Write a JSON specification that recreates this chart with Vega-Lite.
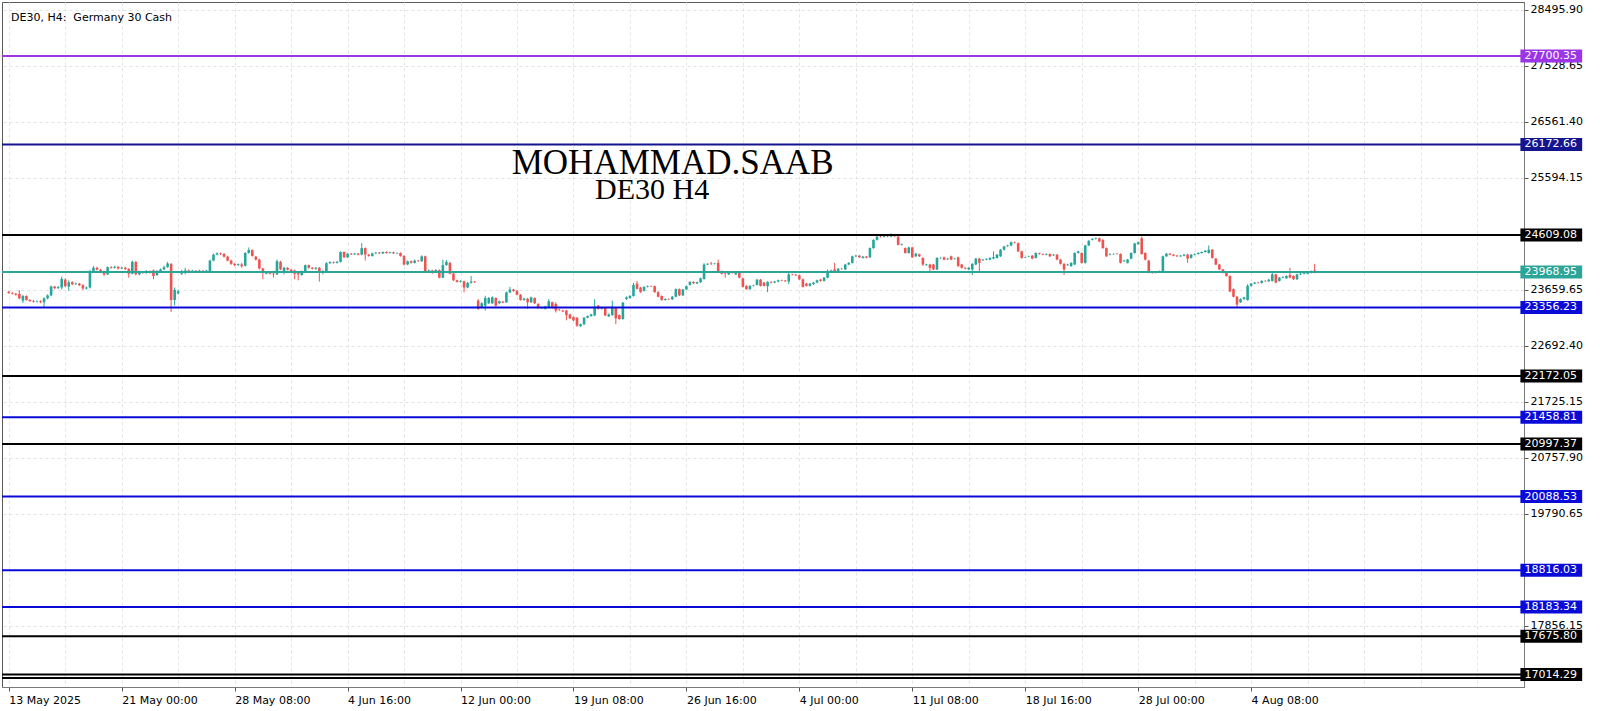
{
  "$schema": "https://vega.github.io/schema/vega-lite/v6.json",
  "width": 1522,
  "height": 685,
  "autosize": {"type": "none"},
  "padding": {"left": 2, "top": 2, "right": 76, "bottom": 24},
  "background": "#ffffff",
  "config": {"view": {"stroke": "#5a5a5a", "strokeWidth": 1}, "font": "DejaVu Sans"},
  "datasets": {
    "candles": [
{"i":0,"o":23627,"c":23605,"h":23644,"l":23593},
{"i":1,"o":23605,"c":23593,"h":23622,"l":23582},
{"i":2,"o":23593,"c":23576,"h":23610,"l":23559},
{"i":3,"o":23588,"c":23514,"h":23656,"l":23497},
{"i":4,"o":23474,"c":23554,"h":23571,"l":23434},
{"i":5,"o":23554,"c":23486,"h":23565,"l":23474},
{"i":6,"o":23486,"c":23468,"h":23497,"l":23451},
{"i":7,"o":23468,"c":23457,"h":23486,"l":23440},
{"i":8,"o":23457,"c":23463,"h":23480,"l":23440},
{"i":9,"o":23463,"c":23446,"h":23480,"l":23429},
{"i":10,"o":23446,"c":23514,"h":23531,"l":23349},
{"i":11,"o":23514,"c":23565,"h":23582,"l":23497},
{"i":12,"o":23565,"c":23718,"h":23735,"l":23554},
{"i":13,"o":23718,"c":23690,"h":23729,"l":23673},
{"i":14,"o":23690,"c":23707,"h":23724,"l":23678},
{"i":15,"o":23701,"c":23849,"h":23888,"l":23667},
{"i":16,"o":23837,"c":23724,"h":23860,"l":23707},
{"i":17,"o":23718,"c":23792,"h":23826,"l":23644},
{"i":18,"o":23792,"c":23758,"h":23809,"l":23741},
{"i":19,"o":23758,"c":23769,"h":23786,"l":23746},
{"i":20,"o":23769,"c":23741,"h":23781,"l":23724},
{"i":21,"o":23741,"c":23684,"h":23758,"l":23656},
{"i":22,"o":23684,"c":23701,"h":23718,"l":23667},
{"i":23,"o":23701,"c":23985,"h":24008,"l":23684},
{"i":24,"o":23985,"c":24042,"h":24070,"l":23973},
{"i":25,"o":24042,"c":24008,"h":24059,"l":23996},
{"i":26,"o":24008,"c":23985,"h":24025,"l":23973},
{"i":27,"o":23985,"c":23928,"h":23996,"l":23900},
{"i":28,"o":23928,"c":24053,"h":24064,"l":23917},
{"i":29,"o":24053,"c":24042,"h":24070,"l":24025},
{"i":30,"o":24042,"c":24059,"h":24076,"l":24030},
{"i":31,"o":24059,"c":24030,"h":24070,"l":24013},
{"i":32,"o":24030,"c":24042,"h":24059,"l":24019},
{"i":33,"o":24042,"c":24019,"h":24059,"l":24002},
{"i":34,"o":24019,"c":23939,"h":24036,"l":23871},
{"i":35,"o":23939,"c":24144,"h":24166,"l":23928},
{"i":36,"o":24144,"c":23928,"h":24155,"l":23911},
{"i":37,"o":23928,"c":23973,"h":23991,"l":23911},
{"i":38,"o":23973,"c":23951,"h":23985,"l":23939},
{"i":39,"o":23951,"c":23985,"h":24002,"l":23939},
{"i":40,"o":23985,"c":23956,"h":23996,"l":23945},
{"i":41,"o":23996,"c":23900,"h":24013,"l":23843},
{"i":42,"o":23917,"c":23985,"h":24002,"l":23900},
{"i":43,"o":23985,"c":24013,"h":24030,"l":23973},
{"i":44,"o":24013,"c":24053,"h":24076,"l":24002},
{"i":45,"o":24053,"c":24115,"h":24144,"l":24042},
{"i":46,"o":24110,"c":23486,"h":24121,"l":23276},
{"i":47,"o":23486,"c":23661,"h":23701,"l":23389},
{"i":48,"o":23599,"c":23633,"h":23667,"l":23582},
{"i":49,"o":23939,"c":23985,"h":24008,"l":23917},
{"i":50,"o":23985,"c":23996,"h":24042,"l":23928},
{"i":51,"o":23996,"c":23973,"h":24013,"l":23956},
{"i":52,"o":23973,"c":23991,"h":24008,"l":23962},
{"i":53,"o":23991,"c":23979,"h":24002,"l":23968},
{"i":54,"o":23979,"c":23991,"h":24008,"l":23968},
{"i":55,"o":23991,"c":23985,"h":24002,"l":23973},
{"i":56,"o":23985,"c":23991,"h":24008,"l":23973},
{"i":57,"o":23985,"c":24166,"h":24183,"l":23973},
{"i":58,"o":24166,"c":24269,"h":24286,"l":24155},
{"i":59,"o":24269,"c":24291,"h":24308,"l":24257},
{"i":60,"o":24291,"c":24280,"h":24303,"l":24263},
{"i":61,"o":24280,"c":24234,"h":24297,"l":24217},
{"i":62,"o":24234,"c":24166,"h":24251,"l":24155},
{"i":63,"o":24166,"c":24110,"h":24183,"l":24093},
{"i":64,"o":24110,"c":24087,"h":24121,"l":24070},
{"i":65,"o":24087,"c":24104,"h":24115,"l":24076},
{"i":66,"o":24098,"c":24070,"h":24127,"l":24042},
{"i":67,"o":24076,"c":24297,"h":24314,"l":24064},
{"i":68,"o":24297,"c":24348,"h":24393,"l":24286},
{"i":69,"o":24348,"c":24246,"h":24359,"l":24234},
{"i":70,"o":24234,"c":24183,"h":24246,"l":24166},
{"i":71,"o":24183,"c":24030,"h":24200,"l":24013},
{"i":72,"o":24030,"c":23956,"h":24042,"l":23843},
{"i":73,"o":23939,"c":23951,"h":23968,"l":23928},
{"i":74,"o":23951,"c":23939,"h":23962,"l":23928},
{"i":75,"o":23939,"c":23928,"h":23956,"l":23871},
{"i":76,"o":23928,"c":24155,"h":24183,"l":23917},
{"i":77,"o":24144,"c":24013,"h":24161,"l":24002},
{"i":78,"o":23985,"c":24042,"h":24059,"l":23928},
{"i":79,"o":24042,"c":24008,"h":24053,"l":23996},
{"i":80,"o":24008,"c":23985,"h":24019,"l":23973},
{"i":81,"o":23996,"c":23939,"h":24008,"l":23843},
{"i":82,"o":23973,"c":23928,"h":23985,"l":23826},
{"i":83,"o":23917,"c":23985,"h":23996,"l":23905},
{"i":84,"o":23985,"c":24087,"h":24098,"l":23973},
{"i":85,"o":24087,"c":24042,"h":24098,"l":24030},
{"i":86,"o":24042,"c":24025,"h":24053,"l":24013},
{"i":87,"o":24025,"c":24042,"h":24053,"l":24008},
{"i":88,"o":24042,"c":23968,"h":24053,"l":23803},
{"i":89,"o":23956,"c":23985,"h":24002,"l":23928},
{"i":90,"o":23985,"c":24121,"h":24138,"l":23973},
{"i":91,"o":24121,"c":24138,"h":24155,"l":24110},
{"i":92,"o":24138,"c":24127,"h":24149,"l":24115},
{"i":93,"o":24127,"c":24144,"h":24161,"l":24115},
{"i":94,"o":24144,"c":24314,"h":24325,"l":24132},
{"i":95,"o":24314,"c":24223,"h":24325,"l":24212},
{"i":96,"o":24223,"c":24286,"h":24297,"l":24212},
{"i":97,"o":24286,"c":24274,"h":24297,"l":24263},
{"i":98,"o":24274,"c":24286,"h":24297,"l":24263},
{"i":99,"o":24286,"c":24269,"h":24297,"l":24257},
{"i":100,"o":24269,"c":24382,"h":24467,"l":24257},
{"i":101,"o":24382,"c":24269,"h":24393,"l":24166},
{"i":102,"o":24269,"c":24246,"h":24280,"l":24234},
{"i":103,"o":24246,"c":24291,"h":24303,"l":24234},
{"i":104,"o":24291,"c":24303,"h":24314,"l":24280},
{"i":105,"o":24303,"c":24291,"h":24314,"l":24280},
{"i":106,"o":24291,"c":24314,"h":24325,"l":24280},
{"i":107,"o":24314,"c":24297,"h":24325,"l":24286},
{"i":108,"o":24297,"c":24308,"h":24320,"l":24286},
{"i":109,"o":24308,"c":24291,"h":24320,"l":24280},
{"i":110,"o":24291,"c":24297,"h":24308,"l":24280},
{"i":111,"o":24297,"c":24246,"h":24308,"l":24234},
{"i":112,"o":24246,"c":24098,"h":24257,"l":24081},
{"i":113,"o":24098,"c":24155,"h":24166,"l":24087},
{"i":114,"o":24155,"c":24127,"h":24166,"l":24115},
{"i":115,"o":24127,"c":24166,"h":24183,"l":24115},
{"i":116,"o":24166,"c":24155,"h":24178,"l":24144},
{"i":117,"o":24155,"c":24240,"h":24257,"l":24144},
{"i":118,"o":24240,"c":23985,"h":24251,"l":23973},
{"i":119,"o":23985,"c":23996,"h":24013,"l":23956},
{"i":120,"o":23996,"c":23973,"h":24008,"l":23939},
{"i":121,"o":23973,"c":24002,"h":24019,"l":23962},
{"i":122,"o":24002,"c":23871,"h":24013,"l":23860},
{"i":123,"o":23871,"c":24087,"h":24183,"l":23860},
{"i":124,"o":24087,"c":24144,"h":24178,"l":24076},
{"i":125,"o":24127,"c":23939,"h":24144,"l":23928},
{"i":126,"o":23939,"c":23826,"h":23951,"l":23815},
{"i":127,"o":23826,"c":23798,"h":23837,"l":23786},
{"i":128,"o":23798,"c":23809,"h":23826,"l":23786},
{"i":129,"o":23809,"c":23701,"h":23820,"l":23616},
{"i":130,"o":23701,"c":23781,"h":23798,"l":23690},
{"i":131,"o":23781,"c":23803,"h":23900,"l":23769},
{"i":132,"o":23803,"c":23792,"h":23815,"l":23781},
{"i":133,"o":23474,"c":23332,"h":23503,"l":23315},
{"i":134,"o":23349,"c":23429,"h":23446,"l":23338},
{"i":135,"o":23389,"c":23520,"h":23559,"l":23304},
{"i":136,"o":23429,"c":23520,"h":23537,"l":23417},
{"i":137,"o":23429,"c":23531,"h":23548,"l":23417},
{"i":138,"o":23520,"c":23389,"h":23531,"l":23372},
{"i":139,"o":23429,"c":23463,"h":23474,"l":23417},
{"i":140,"o":23457,"c":23440,"h":23468,"l":23429},
{"i":141,"o":23446,"c":23616,"h":23633,"l":23434},
{"i":142,"o":23616,"c":23667,"h":23712,"l":23605},
{"i":143,"o":23667,"c":23639,"h":23678,"l":23627},
{"i":144,"o":23644,"c":23576,"h":23656,"l":23565},
{"i":145,"o":23576,"c":23486,"h":23588,"l":23474},
{"i":146,"o":23486,"c":23508,"h":23525,"l":23474},
{"i":147,"o":23508,"c":23446,"h":23520,"l":23332},
{"i":148,"o":23446,"c":23531,"h":23542,"l":23434},
{"i":149,"o":23520,"c":23429,"h":23531,"l":23417},
{"i":150,"o":23417,"c":23344,"h":23429,"l":23332},
{"i":151,"o":23344,"c":23349,"h":23366,"l":23332},
{"i":152,"o":23332,"c":23372,"h":23383,"l":23321},
{"i":153,"o":23361,"c":23463,"h":23503,"l":23349},
{"i":154,"o":23446,"c":23349,"h":23457,"l":23338},
{"i":155,"o":23417,"c":23304,"h":23446,"l":23270},
{"i":156,"o":23321,"c":23315,"h":23332,"l":23298},
{"i":157,"o":23304,"c":23287,"h":23315,"l":23276},
{"i":158,"o":23304,"c":23224,"h":23315,"l":23134},
{"i":159,"o":23236,"c":23168,"h":23247,"l":23156},
{"i":160,"o":23190,"c":23134,"h":23202,"l":23122},
{"i":161,"o":23179,"c":23043,"h":23190,"l":23020},
{"i":162,"o":23032,"c":23066,"h":23077,"l":23020},
{"i":163,"o":23066,"c":23179,"h":23190,"l":23054},
{"i":164,"o":23179,"c":23207,"h":23219,"l":23168},
{"i":165,"o":23207,"c":23236,"h":23247,"l":23196},
{"i":166,"o":23219,"c":23372,"h":23497,"l":23207},
{"i":167,"o":23389,"c":23332,"h":23400,"l":23321},
{"i":168,"o":23332,"c":23344,"h":23355,"l":23321},
{"i":169,"o":23349,"c":23219,"h":23361,"l":23207},
{"i":170,"o":23202,"c":23236,"h":23253,"l":23190},
{"i":171,"o":23224,"c":23372,"h":23474,"l":23213},
{"i":172,"o":23349,"c":23168,"h":23361,"l":23066},
{"i":173,"o":23224,"c":23156,"h":23236,"l":23145},
{"i":174,"o":23156,"c":23440,"h":23451,"l":23145},
{"i":175,"o":23503,"c":23531,"h":23548,"l":23486},
{"i":176,"o":23520,"c":23554,"h":23571,"l":23508},
{"i":177,"o":23554,"c":23746,"h":23781,"l":23542},
{"i":178,"o":23769,"c":23678,"h":23815,"l":23667},
{"i":179,"o":23701,"c":23622,"h":23712,"l":23610},
{"i":180,"o":23644,"c":23712,"h":23724,"l":23633},
{"i":181,"o":23712,"c":23724,"h":23735,"l":23701},
{"i":182,"o":23724,"c":23718,"h":23735,"l":23707},
{"i":183,"o":23724,"c":23622,"h":23735,"l":23610},
{"i":184,"o":23622,"c":23542,"h":23633,"l":23531},
{"i":185,"o":23554,"c":23486,"h":23565,"l":23474},
{"i":186,"o":23486,"c":23503,"h":23514,"l":23474},
{"i":187,"o":23503,"c":23497,"h":23514,"l":23486},
{"i":188,"o":23497,"c":23542,"h":23554,"l":23486},
{"i":189,"o":23542,"c":23673,"h":23684,"l":23531},
{"i":190,"o":23673,"c":23565,"h":23684,"l":23554},
{"i":191,"o":23565,"c":23667,"h":23678,"l":23554},
{"i":192,"o":23667,"c":23724,"h":23735,"l":23656},
{"i":193,"o":23746,"c":23798,"h":23809,"l":23735},
{"i":194,"o":23798,"c":23775,"h":23809,"l":23764},
{"i":195,"o":23769,"c":23792,"h":23803,"l":23758},
{"i":196,"o":23792,"c":23860,"h":23871,"l":23781},
{"i":197,"o":23849,"c":24098,"h":24121,"l":23837},
{"i":198,"o":24098,"c":24110,"h":24121,"l":24087},
{"i":199,"o":24115,"c":24104,"h":24144,"l":24093},
{"i":200,"o":24110,"c":24115,"h":24127,"l":24098},
{"i":201,"o":24127,"c":23973,"h":24183,"l":23962},
{"i":202,"o":23985,"c":23939,"h":23996,"l":23928},
{"i":203,"o":23945,"c":23939,"h":23956,"l":23871},
{"i":204,"o":23928,"c":23956,"h":23968,"l":23917},
{"i":205,"o":23956,"c":23951,"h":23968,"l":23939},
{"i":206,"o":23928,"c":23968,"h":23979,"l":23917},
{"i":207,"o":23973,"c":23871,"h":23985,"l":23860},
{"i":208,"o":23860,"c":23712,"h":23871,"l":23701},
{"i":209,"o":23729,"c":23673,"h":23741,"l":23661},
{"i":210,"o":23673,"c":23729,"h":23741,"l":23661},
{"i":211,"o":23729,"c":23735,"h":23746,"l":23718},
{"i":212,"o":23746,"c":23837,"h":23849,"l":23735},
{"i":213,"o":23837,"c":23729,"h":23849,"l":23718},
{"i":214,"o":23786,"c":23729,"h":23798,"l":23718},
{"i":215,"o":23724,"c":23798,"h":23809,"l":23622},
{"i":216,"o":23798,"c":23786,"h":23809,"l":23775},
{"i":217,"o":23786,"c":23803,"h":23815,"l":23775},
{"i":218,"o":23803,"c":23826,"h":23837,"l":23792},
{"i":219,"o":23826,"c":23820,"h":23837,"l":23809},
{"i":220,"o":23820,"c":23809,"h":23832,"l":23798},
{"i":221,"o":23803,"c":23928,"h":23962,"l":23758},
{"i":222,"o":23928,"c":23922,"h":23939,"l":23911},
{"i":223,"o":23922,"c":23911,"h":23934,"l":23900},
{"i":224,"o":23911,"c":23843,"h":23922,"l":23832},
{"i":225,"o":23843,"c":23712,"h":23854,"l":23701},
{"i":226,"o":23769,"c":23729,"h":23781,"l":23718},
{"i":227,"o":23729,"c":23769,"h":23781,"l":23718},
{"i":228,"o":23758,"c":23786,"h":23798,"l":23746},
{"i":229,"o":23786,"c":23826,"h":23837,"l":23775},
{"i":230,"o":23837,"c":23815,"h":23849,"l":23803},
{"i":231,"o":23815,"c":23871,"h":23883,"l":23803},
{"i":232,"o":23871,"c":23985,"h":24013,"l":23860},
{"i":233,"o":23968,"c":23996,"h":24008,"l":23956},
{"i":234,"o":24013,"c":23985,"h":24127,"l":23973},
{"i":235,"o":23985,"c":24025,"h":24036,"l":23973},
{"i":236,"o":24025,"c":24019,"h":24036,"l":24008},
{"i":237,"o":24013,"c":24098,"h":24110,"l":24002},
{"i":238,"o":24098,"c":24127,"h":24138,"l":24087},
{"i":239,"o":24127,"c":24240,"h":24251,"l":24115},
{"i":240,"o":24240,"c":24251,"h":24263,"l":24229},
{"i":241,"o":24251,"c":24223,"h":24263,"l":24212},
{"i":242,"o":24212,"c":24234,"h":24246,"l":24200},
{"i":243,"o":24234,"c":24217,"h":24246,"l":24206},
{"i":244,"o":24223,"c":24382,"h":24393,"l":24212},
{"i":245,"o":24382,"c":24524,"h":24535,"l":24371},
{"i":246,"o":24524,"c":24581,"h":24592,"l":24513},
{"i":247,"o":24581,"c":24575,"h":24592,"l":24564},
{"i":248,"o":24575,"c":24586,"h":24598,"l":24564},
{"i":249,"o":24586,"c":24581,"h":24598,"l":24569},
{"i":250,"o":24581,"c":24609,"h":24637,"l":24569},
{"i":251,"o":24609,"c":24586,"h":24620,"l":24575},
{"i":252,"o":24581,"c":24439,"h":24592,"l":24427},
{"i":253,"o":24439,"c":24450,"h":24461,"l":24427},
{"i":254,"o":24382,"c":24297,"h":24393,"l":24286},
{"i":255,"o":24297,"c":24393,"h":24405,"l":24286},
{"i":256,"o":24393,"c":24223,"h":24405,"l":24212},
{"i":257,"o":24240,"c":24286,"h":24297,"l":24229},
{"i":258,"o":24274,"c":24240,"h":24286,"l":24229},
{"i":259,"o":24212,"c":24098,"h":24223,"l":24076},
{"i":260,"o":24087,"c":24098,"h":24110,"l":24076},
{"i":261,"o":24098,"c":24042,"h":24110,"l":23973},
{"i":262,"o":24098,"c":24013,"h":24110,"l":24002},
{"i":263,"o":24013,"c":24212,"h":24223,"l":24002},
{"i":264,"o":24206,"c":24212,"h":24223,"l":24200},
{"i":265,"o":24223,"c":24183,"h":24234,"l":24172},
{"i":266,"o":24189,"c":24200,"h":24212,"l":24178},
{"i":267,"o":24240,"c":24183,"h":24251,"l":24172},
{"i":268,"o":24195,"c":24200,"h":24212,"l":24183},
{"i":269,"o":24223,"c":24070,"h":24234,"l":24059},
{"i":270,"o":24098,"c":24042,"h":24110,"l":24030},
{"i":271,"o":24042,"c":24030,"h":24053,"l":24013},
{"i":272,"o":24013,"c":24042,"h":24053,"l":24002},
{"i":273,"o":24013,"c":24110,"h":24121,"l":23917},
{"i":274,"o":24098,"c":24200,"h":24212,"l":24087},
{"i":275,"o":24200,"c":24127,"h":24212,"l":23973},
{"i":276,"o":24172,"c":24183,"h":24195,"l":24161},
{"i":277,"o":24183,"c":24195,"h":24206,"l":24172},
{"i":278,"o":24183,"c":24212,"h":24223,"l":24172},
{"i":279,"o":24200,"c":24223,"h":24325,"l":24189},
{"i":280,"o":24212,"c":24269,"h":24280,"l":24200},
{"i":281,"o":24240,"c":24354,"h":24365,"l":24229},
{"i":282,"o":24354,"c":24410,"h":24422,"l":24342},
{"i":283,"o":24416,"c":24427,"h":24439,"l":24405},
{"i":284,"o":24427,"c":24484,"h":24496,"l":24416},
{"i":285,"o":24484,"c":24478,"h":24496,"l":24461},
{"i":286,"o":24467,"c":24325,"h":24478,"l":24314},
{"i":287,"o":24325,"c":24212,"h":24337,"l":24200},
{"i":288,"o":24217,"c":24223,"h":24234,"l":24206},
{"i":289,"o":24234,"c":24240,"h":24251,"l":24223},
{"i":290,"o":24251,"c":24200,"h":24263,"l":24189},
{"i":291,"o":24212,"c":24297,"h":24308,"l":24200},
{"i":292,"o":24291,"c":24280,"h":24303,"l":24269},
{"i":293,"o":24280,"c":24269,"h":24291,"l":24257},
{"i":294,"o":24269,"c":24280,"h":24291,"l":24257},
{"i":295,"o":24280,"c":24240,"h":24291,"l":24229},
{"i":296,"o":24257,"c":24269,"h":24280,"l":24246},
{"i":297,"o":24269,"c":24183,"h":24280,"l":24172},
{"i":298,"o":24183,"c":24110,"h":24195,"l":24098},
{"i":299,"o":24110,"c":24013,"h":24121,"l":23917},
{"i":300,"o":24087,"c":24098,"h":24110,"l":24076},
{"i":301,"o":24070,"c":24127,"h":24138,"l":24059},
{"i":302,"o":24098,"c":24297,"h":24308,"l":24087},
{"i":303,"o":24297,"c":24325,"h":24337,"l":24286},
{"i":304,"o":24297,"c":24127,"h":24308,"l":24115},
{"i":305,"o":24127,"c":24427,"h":24439,"l":24115},
{"i":306,"o":24427,"c":24507,"h":24518,"l":24416},
{"i":307,"o":24524,"c":24541,"h":24552,"l":24513},
{"i":308,"o":24541,"c":24552,"h":24564,"l":24530},
{"i":309,"o":24552,"c":24496,"h":24564,"l":24484},
{"i":310,"o":24524,"c":24382,"h":24535,"l":24371},
{"i":311,"o":24382,"c":24240,"h":24393,"l":24229},
{"i":312,"o":24269,"c":24280,"h":24291,"l":24257},
{"i":313,"o":24274,"c":24280,"h":24291,"l":24269},
{"i":314,"o":24286,"c":24280,"h":24291,"l":24269},
{"i":315,"o":24280,"c":24127,"h":24291,"l":24115},
{"i":316,"o":24155,"c":24166,"h":24178,"l":24144},
{"i":317,"o":24127,"c":24183,"h":24195,"l":24115},
{"i":318,"o":24200,"c":24297,"h":24308,"l":24189},
{"i":319,"o":24297,"c":24461,"h":24473,"l":24286},
{"i":320,"o":24450,"c":24484,"h":24496,"l":24439},
{"i":321,"o":24552,"c":24280,"h":24581,"l":24269},
{"i":322,"o":24297,"c":24183,"h":24308,"l":24172},
{"i":323,"o":24166,"c":23956,"h":24178,"l":23945},
{"i":324,"o":23962,"c":23956,"h":23973,"l":23939},
{"i":325,"o":23956,"c":23973,"h":23985,"l":23945},
{"i":326,"o":23973,"c":23985,"h":23996,"l":23962},
{"i":327,"o":23985,"c":24240,"h":24251,"l":23973},
{"i":328,"o":24240,"c":24286,"h":24297,"l":24229},
{"i":329,"o":24286,"c":24269,"h":24297,"l":24257},
{"i":330,"o":24269,"c":24251,"h":24280,"l":24240},
{"i":331,"o":24251,"c":24240,"h":24263,"l":24229},
{"i":332,"o":24240,"c":24251,"h":24263,"l":24229},
{"i":333,"o":24251,"c":24269,"h":24280,"l":24240},
{"i":334,"o":24269,"c":24200,"h":24280,"l":24127},
{"i":335,"o":24212,"c":24269,"h":24280,"l":24200},
{"i":336,"o":24269,"c":24280,"h":24291,"l":24257},
{"i":337,"o":24280,"c":24297,"h":24308,"l":24269},
{"i":338,"o":24297,"c":24314,"h":24325,"l":24286},
{"i":339,"o":24314,"c":24337,"h":24348,"l":24303},
{"i":340,"o":24297,"c":24354,"h":24427,"l":24286},
{"i":341,"o":24354,"c":24212,"h":24365,"l":24200},
{"i":342,"o":24200,"c":24098,"h":24212,"l":24087},
{"i":343,"o":24098,"c":24013,"h":24110,"l":24002},
{"i":344,"o":24013,"c":23956,"h":24025,"l":23945},
{"i":345,"o":23973,"c":23900,"h":23985,"l":23888},
{"i":346,"o":23900,"c":23633,"h":23911,"l":23622},
{"i":347,"o":23673,"c":23542,"h":23684,"l":23531},
{"i":348,"o":23542,"c":23406,"h":23554,"l":23361},
{"i":349,"o":23446,"c":23503,"h":23514,"l":23434},
{"i":350,"o":23503,"c":23531,"h":23542,"l":23486},
{"i":351,"o":23486,"c":23729,"h":23758,"l":23474},
{"i":352,"o":23729,"c":23769,"h":23781,"l":23718},
{"i":353,"o":23769,"c":23786,"h":23798,"l":23758},
{"i":354,"o":23786,"c":23781,"h":23798,"l":23769},
{"i":355,"o":23781,"c":23815,"h":23826,"l":23769},
{"i":356,"o":23815,"c":23809,"h":23826,"l":23798},
{"i":357,"o":23809,"c":23837,"h":23849,"l":23798},
{"i":358,"o":23815,"c":23928,"h":23973,"l":23803},
{"i":359,"o":23928,"c":23786,"h":23939,"l":23775},
{"i":360,"o":23815,"c":23871,"h":23883,"l":23803},
{"i":361,"o":23871,"c":23883,"h":23894,"l":23860},
{"i":362,"o":23860,"c":23900,"h":23911,"l":23849},
{"i":363,"o":23917,"c":23871,"h":24042,"l":23860},
{"i":364,"o":23900,"c":23843,"h":23911,"l":23832},
{"i":365,"o":23843,"c":23928,"h":23939,"l":23832},
{"i":366,"o":23928,"c":23939,"h":23951,"l":23917},
{"i":367,"o":23939,"c":23956,"h":23968,"l":23928},
{"i":368,"o":23939,"c":23973,"h":23985,"l":23928},
{"i":369,"o":23956,"c":23985,"h":23996,"l":23945},
{"i":370,"o":23996,"c":23969,"h":24110,"l":23945}
    ],
    "levels": [
      {"p": 27700.35, "k": "purple"},
      {"p": 26172.66, "k": "navy"},
      {"p": 24609.08, "k": "black"},
      {"p": 23968.95, "k": "teal"},
      {"p": 23356.23, "k": "blue"},
      {"p": 22172.05, "k": "black"},
      {"p": 21458.81, "k": "blue"},
      {"p": 20997.37, "k": "black"},
      {"p": 20088.53, "k": "blue"},
      {"p": 18816.03, "k": "blue"},
      {"p": 18183.34, "k": "blue"},
      {"p": 17675.80, "k": "black"},
      {"p": 17014.29, "k": "black"},
      {"p": 16955.00, "k": "black2"}
    ],
    "notes": [
      {"txt": "DE30, H4:\u00a0 Germany 30 Cash", "x": 0.63, "y": 28309, "kind": "head"},
      {"txt": "MOHAMMAD.SAAB", "x": 188.1, "y": 25670, "kind": "mark1"},
      {"txt": "DE30 H4", "x": 182.3, "y": 25227, "kind": "mark2"}
    ]
  },
  "layer": [
    {
      "data": {"name": "candles"},
      "mark": {"type": "rule", "strokeWidth": 1},
      "encoding": {
        "x": {
          "field": "i", "type": "quantitative",
          "scale": {"domain": [-0.5, 427.9], "nice": false, "zero": false},
          "axis": {
            "title": null,
            "values": [0,16,32,48,64,80,96,112,128,144,160,176,192,208,224,240,256,272,288,304,320,336,352,368,384,400,416],
            "labelExpr": "datum.value % 32 == 0 && datum.value <= 352 ? ['13 May 2025','21 May 00:00','28 May 08:00','4 Jun 16:00','12 Jun 00:00','19 Jun 08:00','26 Jun 16:00','4 Jul 00:00','11 Jul 08:00','18 Jul 16:00','28 Jul 00:00','4 Aug 08:00'][datum.value / 32] : ''",
            "labelAlign": "left",
            "labelBaseline": "top",
            "labelPadding": 3,
            "labelFont": "DejaVu Sans",
            "labelFontSize": 11,
            "labelColor": "#000000",
            "labelOverlap": false,
            "labelFlush": false,
            "labelBound": false,
            "tickSize": 4,
            "tickColor": "#555555",
            "tickOpacity": {"condition": {"test": "datum.value % 32 == 0 && datum.value <= 352", "value": 1}, "value": 0},
            "domainColor": "#7a7a7a",
            "grid": true,
            "gridColor": "#e3e3e3",
            "gridDash": [3, 3],
            "gridWidth": 1
          }
        },
        "y": {
          "field": "l", "type": "quantitative",
          "scale": {"domain": [16885.8, 28547], "nice": false, "zero": false},
          "axis": {
            "title": null,
            "orient": "right",
            "values": [28495.9, 27528.65, 26561.4, 25594.15, 24626.9, 23659.65, 22692.4, 21725.15, 20757.9, 19790.65, 18823.4, 17856.15],
            "labelExpr": "abs(datum.value - 24626.9) < 1 || abs(datum.value - 18823.4) < 1 ? '' : format(datum.value, '.2f')",
            "labelFont": "DejaVu Sans",
            "labelFontSize": 11,
            "labelColor": "#000000",
            "labelPadding": 2,
            "labelOverlap": false,
            "labelFlush": false,
            "labelBound": false,
            "tickSize": 4,
            "tickColor": "#555555",
            "domainColor": "#7a7a7a",
            "grid": true,
            "gridColor": "#e3e3e3",
            "gridDash": [3, 3],
            "gridWidth": 1
          }
        },
        "y2": {"field": "h"},
        "color": {"condition": {"test": "datum.c >= datum.o", "value": "#26a69a"}, "value": "#ef5350"}
      }
    },
    {
      "data": {"name": "candles"},
      "mark": {"type": "bar", "size": 2.6},
      "encoding": {
        "x": {"field": "i", "type": "quantitative"},
        "y": {"field": "o", "type": "quantitative"},
        "y2": {"field": "c"},
        "color": {"condition": {"test": "datum.c >= datum.o", "value": "#26a69a"}, "value": "#ef5350"}
      }
    },
    {
      "data": {"name": "levels"},
      "mark": {"type": "rule"},
      "encoding": {
        "y": {"field": "p", "type": "quantitative"},
        "color": {
          "field": "k", "type": "nominal", "legend": null,
          "scale": {"domain": ["purple", "navy", "black", "teal", "blue", "black2"], "range": ["#9b35e6", "#14148f", "#000000", "#2aa597", "#0a0ad8", "#000000"]}
        },
        "strokeWidth": {
          "field": "k", "type": "nominal", "legend": null,
          "scale": {"domain": ["purple", "navy", "black", "teal", "blue", "black2"], "range": [2, 2, 2, 1, 2, 1.5]}
        }
      }
    },
    {
      "data": {"name": "levels"},
      "transform": [{"filter": "datum.k != 'black2'"}],
      "mark": {"type": "bar", "orient": "horizontal", "size": 13},
      "encoding": {
        "x": {"datum": 428.3, "type": "quantitative"},
        "x2": {"datum": 445.8},
        "y": {"field": "p", "type": "quantitative"},
        "color": {"field": "k", "type": "nominal", "legend": null}
      }
    },
    {
      "data": {"name": "levels"},
      "transform": [{"filter": "datum.k != 'black2'"}],
      "mark": {"type": "text", "align": "left", "baseline": "middle", "dx": 4, "font": "DejaVu Sans", "fontSize": 11, "color": "#ffffff"},
      "encoding": {
        "x": {"datum": 428.3, "type": "quantitative"},
        "y": {"field": "p", "type": "quantitative"},
        "text": {"field": "p", "type": "quantitative", "format": ".2f"}
      }
    },
    {
      "data": {"name": "notes"},
      "transform": [{"filter": "datum.kind == 'head'"}],
      "mark": {"type": "text", "align": "left", "baseline": "alphabetic", "font": "DejaVu Sans", "fontSize": 11, "color": "#000000"},
      "encoding": {
        "x": {"field": "x", "type": "quantitative"},
        "y": {"field": "y", "type": "quantitative"},
        "text": {"field": "txt"}
      }
    },
    {
      "data": {"name": "notes"},
      "transform": [{"filter": "datum.kind == 'mark1'"}],
      "mark": {"type": "text", "align": "center", "baseline": "alphabetic", "font": "Liberation Serif", "fontSize": 35, "color": "#000000"},
      "encoding": {
        "x": {"field": "x", "type": "quantitative"},
        "y": {"field": "y", "type": "quantitative"},
        "text": {"field": "txt"}
      }
    },
    {
      "data": {"name": "notes"},
      "transform": [{"filter": "datum.kind == 'mark2'"}],
      "mark": {"type": "text", "align": "center", "baseline": "alphabetic", "font": "Liberation Serif", "fontSize": 30, "color": "#000000"},
      "encoding": {
        "x": {"field": "x", "type": "quantitative"},
        "y": {"field": "y", "type": "quantitative"},
        "text": {"field": "txt"}
      }
    }
  ]
}
